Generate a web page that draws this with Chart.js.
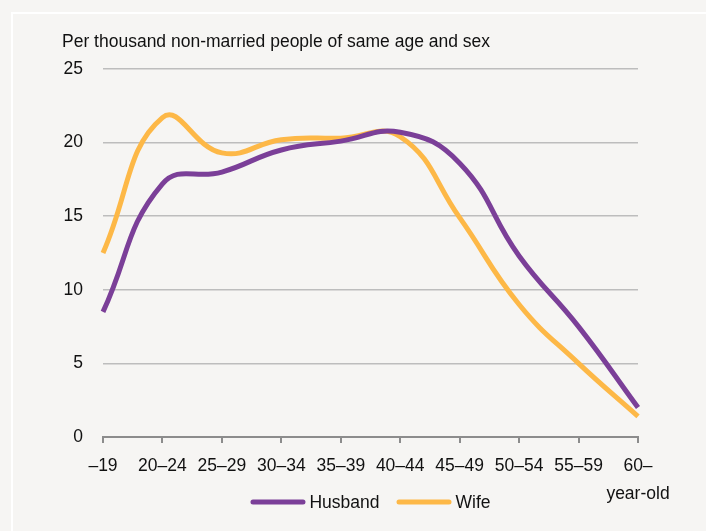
<!DOCTYPE html>
<html>
<head>
<meta charset="utf-8">
<script src="https://cdn.jsdelivr.net/npm/chart.js@4/dist/chart.umd.min.js"></script>
<style>
  html, body { margin: 0; padding: 0; background: #f6f5f3; }
  #wrap { position: relative; width: 706px; height: 531px; overflow: hidden; }
  #frame { position: absolute; left: 11px; top: 12px; right: -10px; bottom: -10px;
           border-left: 2px solid #ffffff; border-top: 2px solid #ffffff; }
  #c { position: absolute; left: 0; top: 0; }
</style>
</head>
<body>
<div id="wrap">
  <div id="frame"></div>
  <canvas id="c" width="706" height="531"></canvas>
</div>
<script>
// Age groups of the first marriage partner
const ageGroups = ['–19', '20–24', '25–29', '30–34', '35–39', '40–44', '45–49', '50–54', '55–59', ['60–', 'year-old']];

// Rate per thousand non-married people of the same age and sex
const husbandRates = [8.5, 17.2, 18.0, 19.5, 20.1, 20.7, 18.6, 12.3, 7.5, 2.0];
const wifeRates    = [12.5, 21.7, 19.3, 20.2, 20.3, 20.4, 14.9, 9.0, 5.0, 1.4];

const yTicks = [0, 5, 10, 15, 20, 25];
const unitLabel = 'Per thousand non-married people of same age and sex';

const FONT = "'Liberation Sans', Arial, sans-serif";
const FSIZE = 17.5;
const TEXT = '#111111';

// Heading above the value axis
const headingPlugin = {
  id: 'heading',
  afterDraw(chart) {
    const ctx = chart.ctx;
    ctx.save();
    ctx.font = FSIZE + 'px ' + FONT;
    ctx.fillStyle = TEXT;
    ctx.textAlign = 'left';
    ctx.textBaseline = 'alphabetic';
    ctx.fillText(unitLabel, 62, 47);
    ctx.restore();
  }
};

// Legend with line swatches, centred under the plot
const lineLegendPlugin = {
  id: 'lineLegend',
  afterDraw(chart) {
    const ctx = chart.ctx;
    const sets = chart.data.datasets;
    const swatch = 55, gapText = 4, gapItem = 17;
    ctx.save();
    ctx.font = FSIZE + 'px ' + FONT;
    const widths = sets.map(d => swatch + gapText + ctx.measureText(d.label).width);
    const total = widths.reduce((a, b) => a + b, 0) + gapItem * (sets.length - 1);
    const area = chart.chartArea;
    let x = (area.left + area.right) / 2 - total / 2;
    const y = 502;
    sets.forEach((d, i) => {
      ctx.strokeStyle = d.borderColor;
      ctx.lineWidth = 5;
      ctx.lineCap = 'round';
      ctx.beginPath();
      ctx.moveTo(x + 2.5, y);
      ctx.lineTo(x + swatch - 2.5, y);
      ctx.stroke();
      ctx.fillStyle = TEXT;
      ctx.textAlign = 'left';
      ctx.textBaseline = 'middle';
      ctx.fillText(d.label, x + swatch + gapText, y + 1);
      x += widths[i] + gapItem;
    });
    ctx.restore();
  }
};

new Chart(document.getElementById('c'), {
  type: 'line',
  data: {
    labels: ageGroups,
    datasets: [
      {
        label: 'Husband',
        data: husbandRates,
        borderColor: '#7b3f98',
        backgroundColor: '#7b3f98',
        borderWidth: 5,
        pointRadius: 0,
        tension: 0.45,
        borderCapStyle: 'butt',
        borderJoinStyle: 'round',
        clip: false
      },
      {
        label: 'Wife',
        data: wifeRates,
        borderColor: '#fdb847',
        backgroundColor: '#fdb847',
        borderWidth: 5,
        pointRadius: 0,
        tension: 0.45,
        borderCapStyle: 'butt',
        borderJoinStyle: 'round',
        clip: false
      }
    ]
  },
  options: {
    responsive: false,
    animation: false,
    layout: { padding: { left: 0, right: 68, top: 69, bottom: 0 } },
    plugins: {
      legend: { display: false },
      title: { display: false },
      tooltip: { enabled: false }
    },
    scales: {
      x: {
        offset: false,
        afterFit(scale) { scale.height = 94; },
        grid: {
          drawOnChartArea: false,
          drawTicks: true,
          tickLength: 6,
          color: '#8c8c8c',
          lineWidth: 2
        },
        border: { display: true, color: '#8c8c8c', width: 2 },
        ticks: {
          autoSkip: false,
          maxRotation: 0,
          padding: 10,
          color: TEXT,
          font: { family: FONT, size: FSIZE, lineHeight: 1.55 }
        }
      },
      y: {
        min: 0,
        max: 25,
        afterFit(scale) { scale.width = 103; },
        afterBuildTicks(scale) { scale.ticks = yTicks.map(v => ({ value: v })); },
        grid: {
          drawTicks: false,
          color: '#bdbdbd',
          lineWidth: 1.5
        },
        border: { display: false },
        ticks: {
          padding: 20,
          color: TEXT,
          font: { family: FONT, size: FSIZE }
        }
      }
    }
  },
  plugins: [headingPlugin, lineLegendPlugin]
});
</script>
</body>
</html>
